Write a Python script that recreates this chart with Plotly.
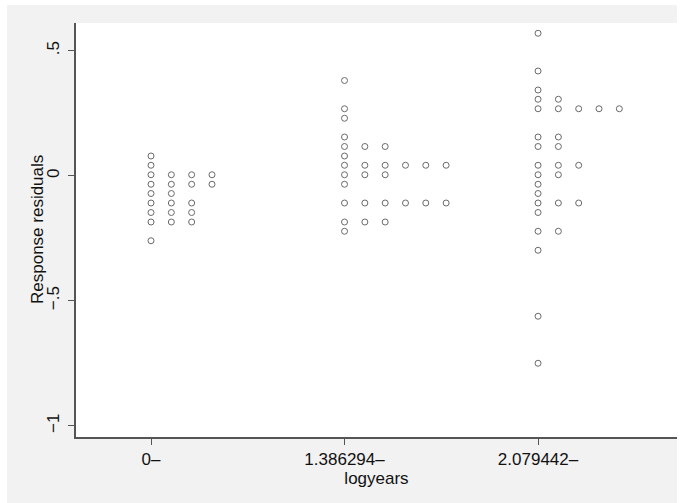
import plotly.graph_objects as go

# Category labels (logyears groups) and tick labels
groups = ["0–", "1.386294–", "2.079442–"]
y_tickvals = [-1, -0.5, 0, 0.5]
y_ticktext = ["−1", "−.5", "0", ".5"]

# Response residuals (binned, as shown in the dot plot), one list per group
resid_g1 = [0.079, 0.042,
            0.004, 0.004, 0.004, 0.004,
            -0.034, -0.034, -0.034, -0.034,
            -0.071, -0.071,
            -0.109, -0.109, -0.109,
            -0.147, -0.147, -0.147,
            -0.185, -0.185, -0.185,
            -0.260]
resid_g2 = [0.381, 0.268, 0.230, 0.155,
            0.117, 0.117, 0.117,
            0.079,
            0.042, 0.042, 0.042, 0.042, 0.042, 0.042,
            0.004, 0.004, 0.004,
            -0.034,
            -0.109, -0.109, -0.109, -0.109, -0.109, -0.109,
            -0.185, -0.185, -0.185,
            -0.222]
resid_g3 = [0.570, 0.419, 0.343,
            0.306, 0.306,
            0.268, 0.268, 0.268, 0.268, 0.268,
            0.155, 0.155,
            0.117, 0.117,
            0.042, 0.042, 0.042,
            0.004, 0.004,
            -0.034, -0.071,
            -0.109, -0.109, -0.109,
            -0.147,
            -0.222, -0.222,
            -0.298, -0.562, -0.750]

all_groups = [resid_g1, resid_g2, resid_g3]

col_step = 0.105  # horizontal spacing between stacked dots (in group units)

xs, ys = [], []
for gi, vals in enumerate(all_groups):
    seen = {}
    for v in vals:
        n = seen.get(v, 0)
        seen[v] = n + 1
        xs.append(gi + n * col_step)
        ys.append(v)

fig = go.Figure()
fig.add_trace(go.Scatter(
    x=xs, y=ys, mode="markers",
    marker=dict(symbol="circle-open", size=6, color="#6a6a6a",
                line=dict(width=1, color="#6a6a6a")),
    showlegend=False, hoverinfo="y",
))

W, H = 684, 503
L, R, T, B = 76, 7, 23, 66
pw, ph = W - L - R, H - T - B

def px_x(p):
    return (p - L) / pw

def px_y(p):
    return (H - B - p) / ph

# white outer strips (left, top, right) around the grey page background
for x0, x1, y0, y1 in [(0, 7, 0, H), (0, W, 0, 5), (677, W, 0, H)]:
    fig.add_shape(type="rect", xref="paper", yref="paper",
                  x0=px_x(x0), x1=px_x(x1), y0=px_y(y1), y1=px_y(y0),
                  fillcolor="white", line=dict(width=0), layer="below")

font = dict(family="Liberation Sans, Arial, Helvetica, sans-serif", size=17, color="#111111")

fig.add_annotation(text="Response residuals", xref="paper", yref="paper",
                   x=px_x(37), y=0.5, xanchor="center", yanchor="middle",
                   textangle=-90, showarrow=False, font=font)

fig.update_layout(
    width=W, height=H,
    margin=dict(l=L, r=R, t=T, b=B, pad=0),
    paper_bgcolor="#f2f2f2", plot_bgcolor="white",
    font=font,
    xaxis=dict(
        range=[-0.3876, 2.718],
        tickvals=[0, 1, 2], ticktext=groups,
        showline=True, linecolor="#555555", linewidth=1.5,
        ticks="outside", ticklen=6, tickcolor="#555555", tickwidth=1.2,
        showgrid=False, zeroline=False,
        title=dict(text="logyears", font=font, standoff=0),
        tickfont=font,
    ),
    yaxis=dict(
        range=[-1.045, 0.611],
        tickvals=y_tickvals, ticktext=y_ticktext, tickangle=-90,
        showline=True, linecolor="#555555", linewidth=1.5,
        ticks="outside", ticklen=6, tickcolor="#555555", tickwidth=1.2,
        showgrid=False, zeroline=False,
        ticklabelstandoff=2,
        tickfont=font,
    ),
)

fig.write_html("out.html", config={"displayModeBar": False},
               post_script="document.body.style.margin='0';document.body.style.overflow='hidden';")
